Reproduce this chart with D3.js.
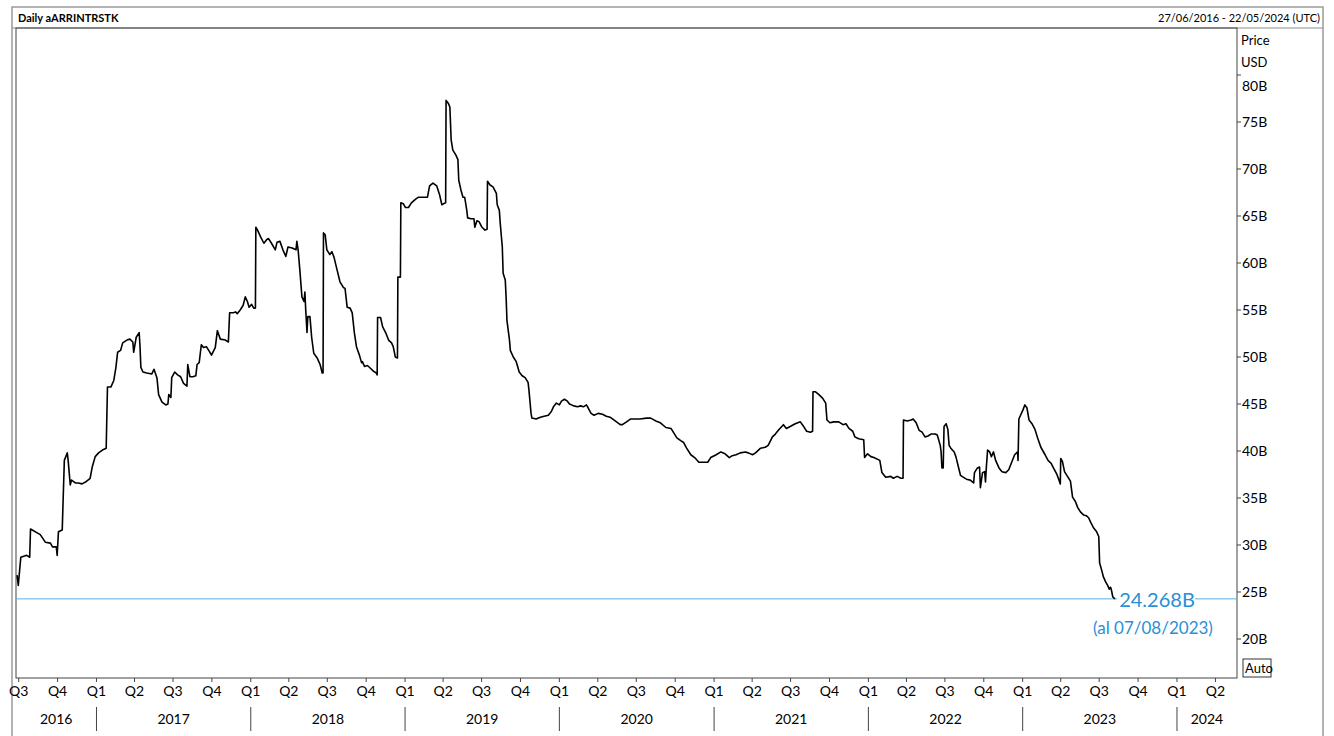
<!DOCTYPE html>
<html>
<head>
<meta charset="utf-8">
<script src="https://cdn.jsdelivr.net/npm/d3@7"></script>
<style>
body{margin:0;background:#fff;}
text{font-family:Lato,"Open Sans",sans-serif;}
</style>
</head>
<body>
<div id="chart"></div>
<script>

// daily values (billions USD)
const s2016 = [
	['2016-06-27',26.8],['2016-06-30',25.7],['2016-07-06',28.7],['2016-07-20',28.9],['2016-07-27',28.7],
	['2016-07-29',31.7],['2016-08-21',31.1],['2016-09-02',30.3],['2016-09-14',30.2],['2016-09-19',29.8],
	['2016-09-28',29.8],['2016-09-30',28.9],['2016-10-03',31.4],['2016-10-12',31.6],['2016-10-14',34.6],
	['2016-10-17',39.0],['2016-10-24',39.8],['2016-10-26',39.0],['2016-10-31',36.4],['2016-11-03',36.9],
	['2016-11-12',36.6],['2016-11-19',36.6],['2016-11-28',36.5],['2016-12-06',36.7],['2016-12-17',37.1],
	['2016-12-22',38.3],['2016-12-29',39.4]
];
const s2017 = [
	['2017-01-06',39.8],['2017-01-15',40.1],['2017-01-24',40.3],['2017-01-27',46.8],['2017-02-04',46.8],
	['2017-02-11',47.5],['2017-02-16',48.9],['2017-02-20',50.5],['2017-02-27',50.7],['2017-03-04',51.5],
	['2017-03-14',51.8],['2017-03-21',51.9],['2017-03-28',51.6],['2017-03-30',50.5],['2017-04-05',52.1],
	['2017-04-12',52.6],['2017-04-14',51.1],['2017-04-16',48.9],['2017-04-21',48.4],['2017-04-30',48.3],
	['2017-05-12',48.2],['2017-05-17',48.7],['2017-05-24',47.8],['2017-05-28',46.0],['2017-06-05',45.2],
	['2017-06-14',44.9],['2017-06-19',45.0],['2017-06-21',46.0],['2017-06-26',45.7],['2017-06-28',47.8],
	['2017-07-05',48.4],['2017-07-12',48.1],['2017-07-19',47.9],['2017-07-26',47.2],['2017-08-03',46.9],
	['2017-08-05',49.2],['2017-08-10',47.9],['2017-08-17',47.9],['2017-08-24',48.0],['2017-08-27',49.2],
	['2017-09-01',49.4],['2017-09-06',51.3],['2017-09-11',51.0],['2017-09-18',51.1],['2017-09-25',50.6],
	['2017-09-30',50.2],['2017-10-09',51.0],['2017-10-14',52.8],['2017-10-21',51.9],['2017-11-02',51.8],
	['2017-11-09',51.6],['2017-11-12',54.7],['2017-11-21',54.7],['2017-11-26',54.8],['2017-11-30',54.6],
	['2017-12-07',55.0],['2017-12-14',55.5],['2017-12-19',56.4],['2017-12-24',55.9],['2017-12-28',55.3]
];
const s2018 = [
	['2018-01-03',55.6],['2018-01-08',55.2],['2018-01-12',55.2],['2018-01-13',63.8],['2018-01-17',63.5],
	['2018-01-24',62.8],['2018-02-01',62.1],['2018-02-08',62.5],['2018-02-12',62.6],['2018-02-19',62.1],
	['2018-02-28',61.4],['2018-03-04',62.2],['2018-03-11',62.3],['2018-03-18',61.4],['2018-03-25',60.7],
	['2018-03-30',61.7],['2018-04-09',61.6],['2018-04-18',61.4],['2018-04-20',62.3],['2018-04-23',61.4],
	['2018-04-27',59.3],['2018-05-02',56.4],['2018-05-07',55.9],['2018-05-09',56.9],['2018-05-11',55.0],
	['2018-05-14',52.6],['2018-05-16',54.3],['2018-05-21',54.3],['2018-05-25',52.1],['2018-05-30',50.4],
	['2018-06-07',49.9],['2018-06-14',49.2],['2018-06-19',48.3],['2018-06-21',48.3],['2018-06-22',63.2],
	['2018-06-26',63.0],['2018-06-30',61.4],['2018-07-07',60.9],['2018-07-12',61.2],['2018-07-17',60.6],
	['2018-07-24',59.3],['2018-07-31',58.0],['2018-08-08',57.4],['2018-08-12',57.3],['2018-08-17',55.3],
	['2018-08-24',55.2],['2018-08-29',54.7],['2018-09-03',52.6],['2018-09-08',51.1],['2018-09-15',50.2],
	['2018-09-20',49.4],['2018-09-22',49.5],['2018-09-27',49.0],['2018-10-04',49.1],['2018-10-11',48.8],
	['2018-10-18',48.5],['2018-10-25',48.3],['2018-10-27',48.1],['2018-10-28',54.2],['2018-11-04',54.2],
	['2018-11-09',53.2],['2018-11-16',52.6],['2018-11-23',51.8],['2018-11-30',51.5],['2018-12-04',51.1],
	['2018-12-09',50.0],['2018-12-14',49.9],['2018-12-15',58.5],['2018-12-21',58.5],['2018-12-22',66.4],
	['2018-12-28',66.3]
];
const s2019 = [
	['2019-01-02',65.9],['2019-01-09',65.9],['2019-01-16',66.4],['2019-01-26',66.8],['2019-02-02',67.0],
	['2019-02-12',67.0],['2019-02-23',67.0],['2019-02-28',68.2],['2019-03-08',68.5],['2019-03-17',68.2],
	['2019-03-24',67.2],['2019-03-29',66.2],['2019-04-06',66.4],['2019-04-07',66.4],['2019-04-08',77.3],
	['2019-04-13',77.0],['2019-04-17',76.6],['2019-04-20',73.1],['2019-04-24',72.0],['2019-05-01',71.5],
	['2019-05-06',71.0],['2019-05-08',68.8],['2019-05-13',67.8],['2019-05-18',67.0],['2019-05-22',67.0],
	['2019-05-27',65.6],['2019-05-29',64.8],['2019-06-06',64.7],['2019-06-13',64.7],['2019-06-15',63.8],
	['2019-06-20',64.5],['2019-06-25',64.4],['2019-07-02',63.8],['2019-07-09',63.5],['2019-07-14',63.6],
	['2019-07-15',68.7],['2019-07-21',68.3],['2019-07-28',68.1],['2019-08-05',67.4],['2019-08-07',66.2],
	['2019-08-12',65.6],['2019-08-14',64.3],['2019-08-19',61.7],['2019-08-21',58.9],['2019-08-26',58.2],
	['2019-08-28',56.4],['2019-08-30',53.9],['2019-09-05',51.8],['2019-09-07',50.7],['2019-09-14',50.0],
	['2019-09-21',49.5],['2019-09-28',48.4],['2019-10-05',48.0],['2019-10-12',47.8],['2019-10-19',47.3],
	['2019-10-21',46.5],['2019-10-26',44.0],['2019-10-28',43.5],['2019-11-07',43.4],['2019-11-17',43.6],
	['2019-11-26',43.7],['2019-12-06',43.8],['2019-12-13',44.2],['2019-12-18',44.7],['2019-12-25',45.1]
];
const s2020 = [
	['2020-01-01',44.9],['2020-01-06',45.3],['2020-01-13',45.5],['2020-01-20',45.3],['2020-01-25',45.0],
	['2020-02-04',44.8],['2020-02-13',44.7],['2020-02-20',44.8],['2020-02-27',44.7],['2020-03-05',44.9],
	['2020-03-09',44.6],['2020-03-16',44.0],['2020-03-23',43.8],['2020-04-02',44.0],['2020-04-12',43.9],
	['2020-04-21',43.7],['2020-04-30',43.6],['2020-05-12',43.2],['2020-05-24',42.8],['2020-05-29',42.8],
	['2020-06-08',43.1],['2020-06-17',43.4],['2020-06-29',43.4],['2020-07-10',43.4],['2020-07-25',43.5],
	['2020-08-04',43.5],['2020-08-16',43.2],['2020-08-27',43.0],['2020-09-09',42.5],['2020-09-21',42.4],
	['2020-09-28',41.9],['2020-10-05',41.4],['2020-10-14',41.1],['2020-10-21',40.9],['2020-10-28',40.3],
	['2020-11-07',39.6],['2020-11-16',39.3],['2020-11-26',38.8],['2020-12-05',38.8],['2020-12-17',38.8],
	['2020-12-24',39.3]
];
const s2021 = [
	['2021-01-06',39.6],['2021-01-17',39.9],['2021-01-27',39.7],['2021-02-06',39.3],['2021-02-13',39.5],
	['2021-02-22',39.6],['2021-03-04',39.8],['2021-03-16',39.9],['2021-03-23',39.8],['2021-04-02',39.6],
	['2021-04-09',39.8],['2021-04-21',40.3],['2021-05-02',40.4],['2021-05-09',40.6],['2021-05-19',41.5],
	['2021-05-26',41.8],['2021-06-02',42.2],['2021-06-14',42.8],['2021-06-21',42.4],['2021-06-30',42.6],
	['2021-07-12',42.9],['2021-07-24',43.1],['2021-08-01',42.6],['2021-08-08',42.1],['2021-08-17',42.0],
	['2021-08-22',42.1],['2021-08-23',46.3],['2021-08-29',46.3],['2021-09-06',46.0],['2021-09-15',45.6],
	['2021-09-22',45.1],['2021-09-25',43.3],['2021-10-02',43.0],['2021-10-11',43.1],['2021-10-23',43.1],
	['2021-11-02',42.8],['2021-11-09',42.9],['2021-11-16',42.4],['2021-11-25',42.1],['2021-11-30',41.5],
	['2021-12-09',41.3],['2021-12-21',41.2],['2021-12-23',39.3],['2021-12-30',39.7]
];
const s2022 = [
	['2022-01-07',39.4],['2022-01-14',39.3],['2022-01-28',39.0],['2022-02-02',37.7],['2022-02-11',37.2],
	['2022-02-23',37.3],['2022-03-01',37.1],['2022-03-10',37.3],['2022-03-19',37.1],['2022-03-24',37.1],
	['2022-03-25',43.3],['2022-04-03',43.2],['2022-04-12',43.3],['2022-04-17',43.4],['2022-04-24',43.0],
	['2022-05-01',42.2],['2022-05-08',42.0],['2022-05-15',41.5],['2022-05-22',41.6],['2022-05-29',41.8],
	['2022-06-08',41.8],['2022-06-13',41.7],['2022-06-20',40.6],['2022-06-22',39.9],['2022-06-24',38.2],
	['2022-06-27',38.2],['2022-06-29',42.6],['2022-07-04',42.9],['2022-07-08',42.3],['2022-07-11',40.6],
	['2022-07-15',40.3],['2022-07-23',39.9],['2022-07-27',39.4],['2022-08-02',38.3],['2022-08-07',37.4],
	['2022-08-14',37.2],['2022-08-21',37.0],['2022-08-30',36.9],['2022-09-07',36.6],['2022-09-09',37.7],
	['2022-09-16',38.2],['2022-09-21',38.3],['2022-09-23',36.1],['2022-09-28',37.7],['2022-10-03',37.8],
	['2022-10-05',36.7],['2022-10-07',38.2],['2022-10-10',40.1],['2022-10-15',39.9],['2022-10-19',39.4],
	['2022-10-24',39.9],['2022-10-29',39.0],['2022-11-06',38.2],['2022-11-13',37.8],['2022-11-22',37.7],
	['2022-11-29',38.0],['2022-12-06',38.8],['2022-12-13',39.6],['2022-12-20',39.9],['2022-12-21',39.0],
	['2022-12-23',43.4],['2022-12-27',43.8]
];
const s2023 = [
	['2023-01-02',44.4],['2023-01-06',44.9],['2023-01-11',44.6],['2023-01-16',43.3],['2023-01-23',42.9],
	['2023-01-30',42.3],['2023-02-06',41.3],['2023-02-13',40.4],['2023-02-23',39.6],['2023-03-02',39.0],
	['2023-03-09',38.7],['2023-03-16',38.1],['2023-03-23',37.5],['2023-03-28',36.9],['2023-03-31',36.5],
	['2023-04-01',39.2],['2023-04-05',38.9],['2023-04-10',37.8],['2023-04-17',37.3],['2023-04-24',36.8],
	['2023-04-29',35.1],['2023-05-06',34.6],['2023-05-11',34.0],['2023-05-18',33.5],['2023-05-25',33.2],
	['2023-06-01',33.1],['2023-06-06',32.9],['2023-06-11',32.4],['2023-06-18',31.8],['2023-06-25',31.4],
	['2023-06-30',30.9],['2023-07-02',28.1],['2023-07-07',27.3],['2023-07-11',26.6],['2023-07-16',26.1],
	['2023-07-21',25.7],['2023-07-25',25.3],['2023-07-28',25.5],['2023-07-30',25.2],['2023-08-02',24.5],
	['2023-08-07',24.268]
];

const yTicks = [20,25,30,35,40,45,50,55,60,65,70,75,80];
const lastLabel = '24.268B';
const lastDateLabel = '(al 07/08/2023)';
const titleLeft = 'Daily aARRINTRSTK';
const titleRight = '27/06/2016 - 22/05/2024 (UTC)';
const rangeStart = '2016-06-27', rangeEnd = '2024-05-22';

const parse = d3.utcParse('%Y-%m-%d');
const data = [].concat(s2016,s2017,s2018,s2019,s2020,s2021,s2022,s2023)
	.map(d => ({date: parse(d[0]), value: d[1]}));

const W = 1334, H = 736;
const plotBox = {l:16, t:28, r:1237, b:678};

const svg = d3.select('#chart').append('svg')
	.attr('width', W)
	.attr('height', H);

const x = d3.scaleUtc()
	.domain([parse(rangeStart), parse(rangeEnd)])
	.range([17, plotBox.r]);

const y = d3.scaleLinear()
	.domain([15.85, 85.0])
	.range([plotBox.b, plotBox.t]);

//outer frame and header
svg.append('rect')
	.attr('x',12).attr('y',7)
	.attr('width',1311).attr('height',740)
	.style('fill','none').style('stroke','#9a9a9a').style('stroke-width',1.5);

svg.append('text')
	.attr('x',18).attr('y',22)
	.style('font-size','11px').style('font-weight','bold')
	.text(titleLeft);

svg.append('text')
	.attr('x',1320).attr('y',22)
	.attr('text-anchor','end')
	.style('font-size','11px')
	.text(titleRight);

svg.append('line')
	.attr('x1',12).attr('x2',1323)
	.attr('y1',plotBox.t).attr('y2',plotBox.t)
	.style('stroke','#8c8c8c');

//plot frame
svg.append('rect')
	.attr('x',plotBox.l).attr('y',plotBox.t)
	.attr('width',plotBox.r-plotBox.l).attr('height',plotBox.b-plotBox.t)
	.style('fill','none').style('stroke','#444').style('stroke-width',1);

//last value line
const lastY = y(data[data.length-1].value);
svg.append('line')
	.attr('x1',plotBox.l).attr('x2',plotBox.r)
	.attr('y1',lastY).attr('y2',lastY)
	.style('stroke','#5aaee3').style('stroke-width',1);

//price line
const line = d3.line()
	.x(d => x(d.date))
	.y(d => y(d.value));

svg.append('path')
	.datum(data)
	.attr('d', line)
	.style('fill','none')
	.style('stroke','#000')
	.style('stroke-width',1.6)
	.style('stroke-linejoin','round');

//last value label
svg.append('rect')
	.attr('x',1117).attr('y',lastY-11)
	.attr('width',78).attr('height',22)
	.style('fill','#fff');

svg.append('text')
	.attr('x',1157).attr('y',lastY+8)
	.attr('text-anchor','middle')
	.style('font-size','20px')
	.style('fill','#2a8fd4')
	.text(lastLabel);

svg.append('text')
	.attr('x',1153).attr('y',lastY+35)
	.attr('text-anchor','middle')
	.style('font-size','17px')
	.style('fill','#2a8fd4')
	.text(lastDateLabel);

//right axis
const yAxis = svg.append('g').attr('class','y-axis');

yAxis.selectAll('line')
	.data(yTicks)
	.enter().append('line')
	.attr('x1',plotBox.r).attr('x2',plotBox.r+4)
	.attr('y1',d => y(d)).attr('y2',d => y(d))
	.style('stroke','#444');

yAxis.selectAll('text')
	.data(yTicks)
	.enter().append('text')
	.attr('x',plotBox.r+5)
	.attr('y',d => Math.max(y(d), 86)+5)
	.style('font-size','14px')
	.text(d => d + 'B');

svg.append('text').attr('x',1241).attr('y',45).style('font-size','13px').text('Price');
svg.append('text').attr('x',1241).attr('y',67).style('font-size','13px').text('USD');

svg.append('rect')
	.attr('x',1243).attr('y',659)
	.attr('width',28).attr('height',18)
	.style('fill','#fff').style('stroke','#333');
svg.append('text').attr('x',1245).attr('y',673).style('font-size','13px').text('Auto');

//bottom axis: quarters
const quarters = d3.utcMonth.every(3).range(parse('2016-07-01'), parse(rangeEnd));
const xAxis = svg.append('g').attr('class','x-axis');

xAxis.selectAll('line.q')
	.data(quarters)
	.enter().append('line')
	.attr('class','q')
	.attr('x1',d => x(d)).attr('x2',d => x(d))
	.attr('y1',plotBox.b).attr('y2',plotBox.b+4)
	.style('stroke','#444');

xAxis.selectAll('text.q')
	.data(quarters)
	.enter().append('text')
	.attr('class','q')
	.attr('x',d => x(d)).attr('y',696)
	.attr('text-anchor','middle')
	.style('font-size','14px')
	.text(d => 'Q' + (Math.floor(d.getUTCMonth()/3)+1));

//years
const years = d3.range(2016, 2025);
const yearStarts = d3.utcYear.range(parse('2017-01-01'), parse(rangeEnd));

xAxis.selectAll('line.y')
	.data(yearStarts)
	.enter().append('line')
	.attr('class','y')
	.attr('x1',d => x(d)).attr('x2',d => x(d))
	.attr('y1',707).attr('y2',731)
	.style('stroke','#444');

xAxis.selectAll('text.y')
	.data(years)
	.enter().append('text')
	.attr('class','y')
	.attr('x', yr => {
		const a = Math.max(x(Date.UTC(yr,0,1)), plotBox.l);
		const b = Math.min(x(Date.UTC(yr+1,0,1)), plotBox.r);
		return (a+b)/2;
	})
	.attr('y',724)
	.attr('text-anchor','middle')
	.style('font-size','14px')
	.text(yr => yr);

</script>
</body>
</html>
